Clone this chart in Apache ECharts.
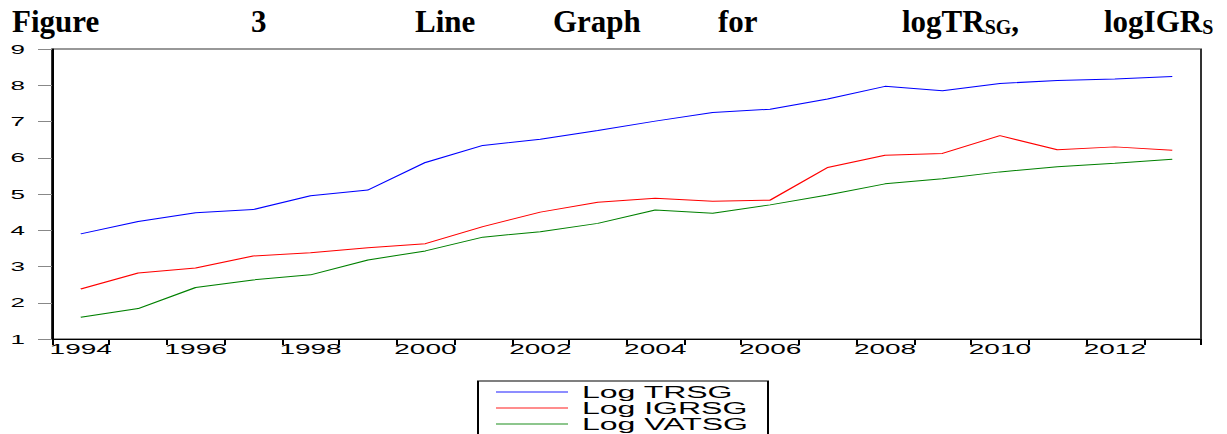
<!DOCTYPE html>
<html>
<head>
<meta charset="utf-8">
<title>Figure 3 Line Graph</title>
<script src="https://cdn.jsdelivr.net/npm/echarts@6/dist/echarts.min.js"></script>
<style>
  html, body { margin: 0; padding: 0; background: #fff; overflow: hidden; }
  /* The graph is laid out at half width and stretched 2x horizontally,
     the way the exported EViews picture was widened on the page. */
  #chart {
    width: 614px; height: 434px;
    transform: scaleX(2); transform-origin: 0 0;
  }
</style>
</head>
<body>
<div id="chart"></div>
<script>
// Years on the category axis
const years = ['1994','1995','1996','1997','1998','1999','2000','2001','2002','2003',
               '2004','2005','2006','2007','2008','2009','2010','2011','2012','2013'];

// Log series
const logTRSG  = [3.90, 4.24, 4.48, 4.57, 4.95, 5.11, 5.87, 6.34, 6.51, 6.75,
                  7.01, 7.25, 7.34, 7.62, 7.97, 7.85, 8.05, 8.13, 8.17, 8.24];
const logIGRSG = [2.38, 2.82, 2.96, 3.29, 3.38, 3.52, 3.63, 4.10, 4.50, 4.77,
                  4.88, 4.80, 4.83, 5.73, 6.07, 6.12, 6.61, 6.22, 6.30, 6.21];
const logVATSG = [1.60, 1.84, 2.42, 2.63, 2.77, 3.18, 3.43, 3.81, 3.96, 4.19,
                  4.56, 4.47, 4.70, 4.97, 5.28, 5.42, 5.61, 5.75, 5.85, 5.96];

const seriesNames = ['Log TRSG', 'Log IGRSG', 'Log VATSG'];
const seriesColors = ['#0000ff', '#ff0000', '#008000'];

// Heading words, spread across the line like justified text
const headingWords = ['Figure', '3', 'Line', 'Graph', 'for',
                      '{w|logTR}{s|SG}{w|,}', '{w|logIGR}{s|S}'];
const headingX = [12, 251, 415, 553, 718, 902, 1104]; // left edges in page pixels

const serif = '"Liberation Serif", "Times New Roman", serif';
const sans = '"Liberation Sans", Arial, sans-serif';

// Heading text is counter-scaled so it keeps normal proportions
const heading = headingWords.map((w, i) => ({
  type: 'text',
  x: headingX[i] / 2,
  y: 6,
  scaleX: 0.5,
  scaleY: 1,
  style: {
    text: w,
    font: 'bold 31px ' + serif,
    fill: '#000',
    verticalAlign: 'top',
    rich: {
      w: { fontFamily: serif, fontWeight: 'bold', fontSize: 31, lineHeight: 31, verticalAlign: 'bottom', fill: '#000' },
      s: { fontFamily: serif, fontWeight: 'bold', fontSize: 20, lineHeight: 26, verticalAlign: 'bottom', fill: '#000' }
    }
  }
}));

const chart = echarts.init(document.getElementById('chart'), null, { renderer: 'svg' });

chart.setOption({
  animation: false,
  backgroundColor: '#fff',
  graphic: heading,
  grid: {
    left: 26, right: 13.5, top: 49, bottom: 95,
    show: true, borderColor: '#333', borderWidth: 1, backgroundColor: 'transparent'
  },
  legend: {
    orient: 'vertical',
    left: 239, top: 381, height: 80,
    data: seriesNames,
    icon: 'rect',
    itemWidth: 36, itemHeight: 1.5, itemGap: 0,
    padding: [3, 10, 8, 9],
    borderColor: '#000', borderWidth: 1, backgroundColor: '#fff',
    itemStyle: { opacity: 0.6 },
    textStyle: { fontFamily: sans, fontSize: 16, color: '#000', lineHeight: 15.6, padding: [0, 0, 0, 2] }
  },
  xAxis: {
    type: 'category',
    data: years,
    boundaryGap: true,
    axisLine: { lineStyle: { color: '#000', width: 1 } },
    axisTick: { show: true, interval: 0, length: 6, lineStyle: { color: '#000' } },
    axisLabel: { interval: 1, margin: 3, fontFamily: sans, fontSize: 14, color: '#000' },
    splitLine: { show: false }
  },
  yAxis: {
    type: 'value',
    min: 1, max: 9, interval: 1,
    axisLine: { show: true, lineStyle: { color: '#000', width: 1 } },
    axisTick: { show: true, length: 7, lineStyle: { color: '#888' } },
    axisLabel: { margin: 13.5, fontFamily: sans, fontSize: 13, color: '#000' },
    splitLine: { show: false }
  },
  series: [logTRSG, logIGRSG, logVATSG].map((d, i) => ({
    name: seriesNames[i],
    type: 'line',
    data: d,
    symbol: 'none',
    showSymbol: false,
    lineStyle: { color: seriesColors[i], width: 1 },
    itemStyle: { color: seriesColors[i] }
  }))
});
</script>
</body>
</html>
